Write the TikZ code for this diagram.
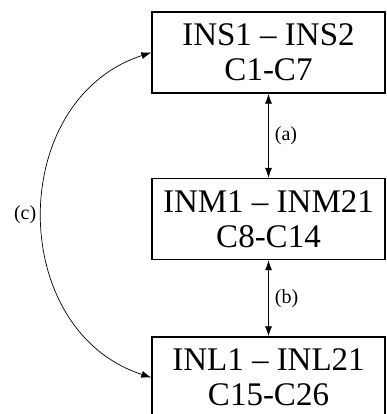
\documentclass[tikz,border=0pt]{standalone}
\usepackage{fontspec}
\setmainfont{Liberation Serif}
\usetikzlibrary{arrows.meta,positioning}

\tikzset{
    block/.style={draw, line width=1.4pt, rectangle, align=center,
        minimum width=233pt, minimum height=81pt, inner sep=0pt,
        font=\fontsize{33}{35}\selectfont},
    lbl/.style={font=\fontsize{20}{22}\selectfont, inner sep=6pt},
    link/.style={line width=0.7pt, {Latex[length=10pt,width=7pt]}-{Latex[length=10pt,width=7pt]}}
}

\begin{document}
\begin{tikzpicture}[x=1pt, y=-1pt, auto]
        \useasboundingbox (0,0) rectangle (387,414);

        \node[block] at (268.5, 52.5)(ins){INS1 -- INS2\\C1-C7};
        \node[block] at (268.5, 219)(inm){INM1 -- INM21\\C8-C14};
        \node[block] at (268.5, 377.5)(inl){INL1 -- INL21\\C15-C26};

        \path[link]
        (ins)edge node[lbl]{(a)}(inm)
        (inm)edge node[lbl]{(b)}(inl)
        ;
        \draw[link] (ins.west) .. controls +(-145, 47) and +(-145, -47) .. node[lbl, left=0pt]{(c)} (inl.west);
    \end{tikzpicture}
\end{document}
